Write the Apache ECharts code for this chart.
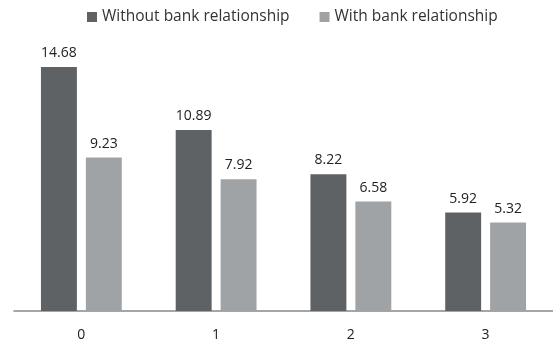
<!DOCTYPE html>
<html><head><meta charset="utf-8">
<script src="https://cdn.jsdelivr.net/npm/echarts@6/dist/echarts.min.js"></script>
<style>html,body{margin:0;padding:0;background:#fff}#c{width:553px;height:344px}</style>
</head><body><div id="c"></div>
<script>
const categories = ['0', '1', '2', '3'];
const seriesNames = ['Without bank relationship', 'With bank relationship'];
const withoutBank = [14.68, 10.89, 8.22, 5.92];
const withBank = [9.23, 7.92, 6.58, 5.32];

const chart = echarts.init(document.getElementById('c'));
const font = '"Open Sans", sans-serif';
chart.setOption({
  animation: false,
  textStyle: { fontFamily: font },
  legend: {
    top: 4, left: 82,
    itemWidth: 10, itemHeight: 10, itemGap: 30,
    icon: 'rect',
    textStyle: { fontSize: 15.5, color: '#333', fontFamily: font },
    data: seriesNames
  },
  grid: { left: 14, right: -3, top: 45, bottom: 33 },
  xAxis: {
    type: 'category', data: categories,
    axisLine: { lineStyle: { color: '#888', width: 1.5 } },
    axisTick: { show: false },
    axisLabel: { fontSize: 14, color: '#222', margin: 17, fontFamily: font }
  },
  yAxis: { type: 'value', min: 0, max: 16, show: false, splitLine: { show: false } },
  series: [
    { name: seriesNames[0], type: 'bar', data: withoutBank, barGap: '25%', barCategoryGap: '40%',
      itemStyle: { color: '#5f6265' },
      label: { show: true, position: 'top', fontSize: 14, color: '#222', distance: 7, fontFamily: font } },
    { name: seriesNames[1], type: 'bar', data: withBank,
      itemStyle: { color: '#a0a3a6' },
      label: { show: true, position: 'top', fontSize: 14, color: '#222', distance: 7, fontFamily: font } }
  ]
});
</script></body></html>
